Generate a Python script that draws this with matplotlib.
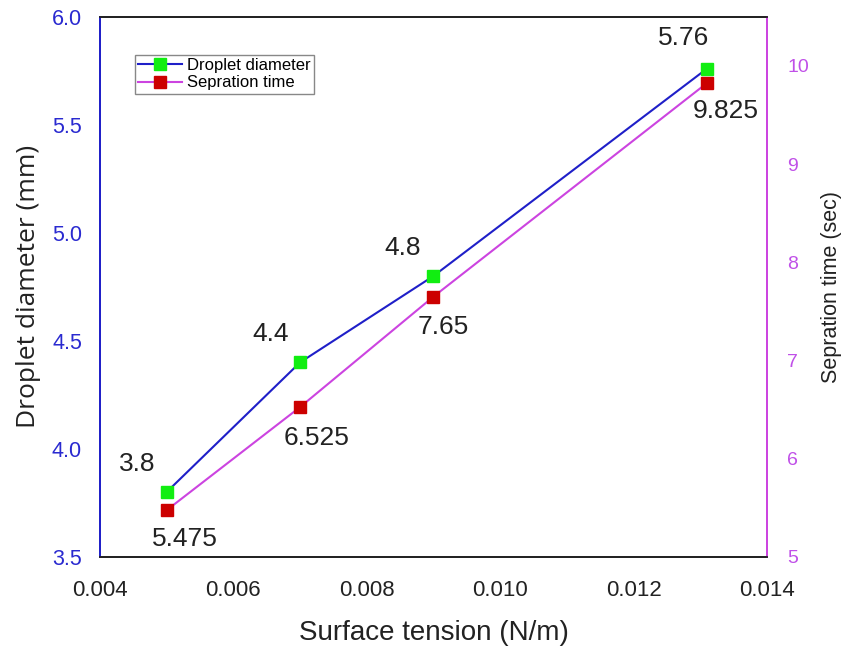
import matplotlib
matplotlib.use("Agg")
import matplotlib.pyplot as plt

# data
surface_tension = [0.005, 0.007, 0.009, 0.0131]
droplet_diameter = [3.8, 4.4, 4.8, 5.76]
separation_time = [5.475, 6.525, 7.65, 9.825]
diam_labels = ["3.8", "4.4", "4.8", "5.76"]
time_labels = ["5.475", "6.525", "7.65", "9.825"]
x_ticks = [0.004, 0.006, 0.008, 0.010, 0.012, 0.014]
x_ticklabels = ["0.004", "0.006", "0.008", "0.010", "0.012", "0.014"]
left_ticks = [3.5, 4.0, 4.5, 5.0, 5.5, 6.0]
right_ticks = [5, 6, 7, 8, 9, 10]

plt.rcParams['font.family'] = ['Liberation Sans', 'DejaVu Sans']

blue = '#1f1fc8'
violet = '#cc44e0'
tick_blue = '#2a2ad0'
tick_violet = '#c050e8'

fig = plt.figure(figsize=(8.47, 6.46), dpi=100)
ax = fig.add_axes([0.118, 0.138, 0.7875, 0.836])
ax2 = ax.twinx()

l1, = ax.plot(surface_tension, droplet_diameter, '-', color=blue, lw=1.5,
              marker='s', ms=8, mfc='#11ee11', mec='#11ee11', zorder=3)
l2, = ax2.plot(surface_tension, separation_time, '-', color=violet, lw=1.5,
               marker='s', ms=8, mfc='#cc0000', mec='#cc0000', zorder=3)

ax.set_xlim(0.004, 0.014)
ax.set_ylim(3.5, 6.0)
ax2.set_ylim(5, 10.5)

ax.set_xticks(x_ticks)
ax.set_xticklabels(x_ticklabels)
ax.set_yticks(left_ticks)
ax.set_yticklabels(["%.1f" % v for v in left_ticks])
ax2.set_yticks(right_ticks)

ax.tick_params(axis='x', length=0, pad=17, labelsize=16, labelcolor='#222222')
ax.tick_params(axis='y', length=0, pad=13, labelsize=15.5, labelcolor=tick_blue)
ax2.tick_params(axis='y', length=0, pad=14.5, labelsize=14, labelcolor=tick_violet)

for a in (ax, ax2):
    a.spines['top'].set_color('#222222')
    a.spines['bottom'].set_color('#222222')
    a.spines['left'].set_color(blue)
    a.spines['right'].set_color(violet)
    for s in a.spines.values():
        s.set_linewidth(1.3)

ax.set_xlabel("Surface tension (N/m)", fontsize=20, labelpad=13, color='#222222')
ax.set_ylabel("Droplet diameter (mm)", fontsize=19, labelpad=8, color='#222222',
              family=['Open Sans', 'DejaVu Sans'])
ax2.set_ylabel("Sepration time (sec)", fontsize=15.5, labelpad=9, color='#222222')

# value annotations (offsets in points)
diam_off = [(-21.5, 11.5), (-21.5, 12), (-22, 11.5), (-16.5, 13.5)]
time_off = [(13, -12), (12, -13.5), (7, -13), (13.5, -11.5)]
for x, y, t, o in zip(surface_tension, droplet_diameter, diam_labels, diam_off):
    ax.annotate(t, (x, y), xytext=o, textcoords='offset points',
                ha='center', va='bottom', fontsize=19, color='#222222')
for x, y, t, o in zip(surface_tension, separation_time, time_labels, time_off):
    ax2.annotate(t, (x, y), xytext=o, textcoords='offset points',
                 ha='center', va='top', fontsize=19, color='#222222')

leg = ax.legend([l1, l2], ["Droplet diameter", "Sepration time"],
                loc='upper left', bbox_to_anchor=(0.0525, 0.93), fontsize=12,
                fancybox=False, edgecolor='#888888', framealpha=1,
                handlelength=2.6, borderpad=0.2, labelspacing=0.15,
                handletextpad=0.3, borderaxespad=0)
leg.get_frame().set_linewidth(1.0)

fig.savefig("out.png", dpi=100)
